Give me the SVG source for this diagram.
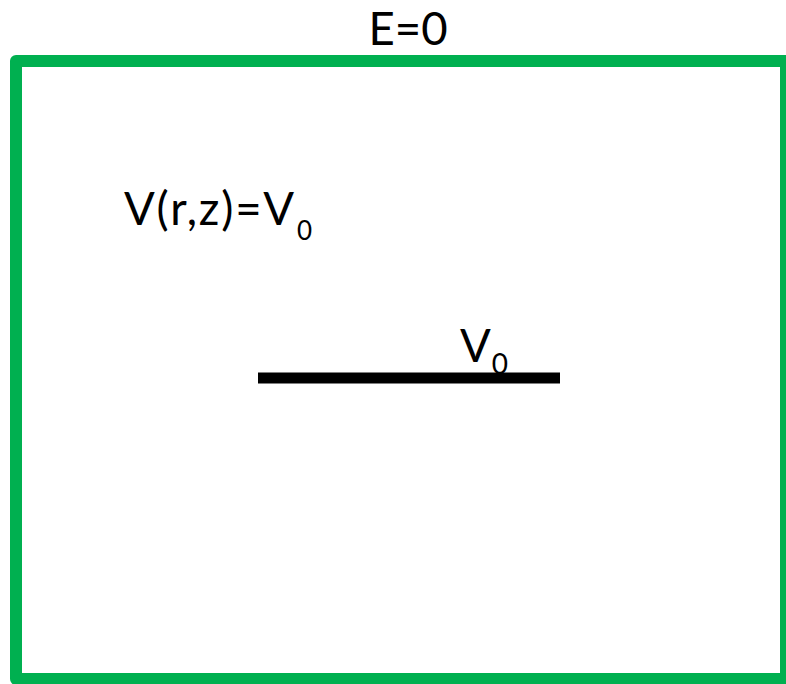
<svg xmlns="http://www.w3.org/2000/svg" width="786" height="684" viewBox="0 0 786 684">
<style>
.t{font-family:Lato,"Open Sans","Liberation Sans",sans-serif;font-size:45.5px;fill:#000}
</style>
<rect width="786" height="684" fill="#fff"/>
<g id="boundary">
<rect x="16" y="61" width="770" height="618" fill="none" stroke="#00B050" stroke-width="12" stroke-linejoin="round"/>
</g>
<g id="label-E">
<text class="t" x="408" y="45" text-anchor="middle">E=0</text>
</g>
<g id="label-V">
<text class="t" x="124" y="225" letter-spacing="1.8">V(r,z)=V<tspan font-size="26" dy="15" dx="1">0</tspan></text>
</g>
<g id="electrode">
<text class="t" x="460" y="362">V<tspan font-size="28" dy="12" dx="1">0</tspan></text>
<line x1="258" y1="378" x2="560" y2="378" stroke="#000" stroke-width="11"/>
</g>
</svg>
